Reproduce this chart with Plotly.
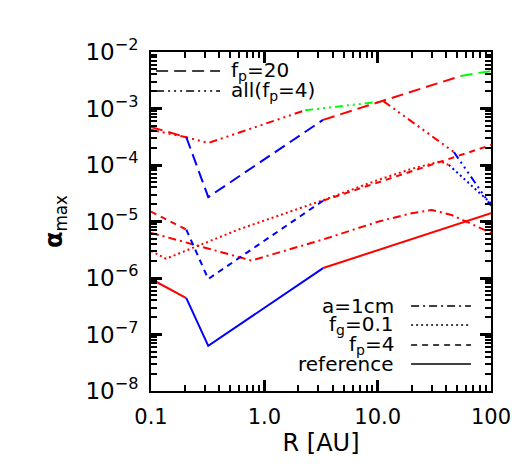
import plotly.graph_objects as go

# radius [AU] and alpha_max, one set per model
R_ref = [0.1, 0.205, 0.32, 3.3, 100]
alpha_ref = [9.6e-7, 4.4e-7, 6.3e-8, 1.5e-6, 1.4e-5]
regime_ref = ["A", "B", "B", "A"]

R_fp4 = [0.1, 0.205, 0.32, 3.3, 100]
alpha_fp4 = [1.5e-5, 7.2e-6, 9.6e-7, 2.34e-5, 2.26e-4]
regime_fp4 = ["A", "B", "B", "A"]

R_fp20 = [0.1, 0.205, 0.32, 3.3, 54, 100]
alpha_fp20 = [4.7e-4, 3.1e-4, 2.7e-5, 6.3e-4, 3.76e-3, 4.6e-3]
regime_fp20 = ["A", "B", "B", "A", "C"]

R_all = [0.1, 0.205, 0.32, 2.29, 11.3, 47, 100]
alpha_all = [4.2e-4, 3.1e-4, 2.45e-4, 9.3e-4, 1.34e-3, 1.7e-4, 1.9e-5]
regime_all = ["A", "A", "A", "C", "A", "B"]

R_fg = [0.1, 0.136, 0.59, 3.33, 10, 20, 35.9, 42.5, 66.5, 100]
alpha_fg = [3.0e-6, 2.2e-6, 7.2e-6, 2.4e-5, 5.4e-5, 8.6e-5, 1.16e-4, 1.0e-4, 4.4e-5, 2.1e-5]
regime_fg = ["A", "A", "A", "A", "A", "A", "A", "B", "B"]

R_1cm = [0.1, 0.77, 3.3, 10.2, 20, 30, 45, 68, 100]
alpha_1cm = [6.3e-6, 2.04e-6, 4.8e-6, 1.0e-5, 1.4e-5, 1.6e-5, 1.3e-5, 8.8e-6, 6.3e-6]
regime_1cm = ["A", "A", "A", "A", "A", "A", "A", "A"]

x_tick_vals = [0.1, 1, 10, 100]
x_tick_text = ["0.1", "1.0", "10.0", "100"]
y_exponents = [-8, -7, -6, -5, -4, -3, -2]

X_RANGE = [-1, 2]
Y_RANGE = [-8, -2]

regime_color = {"A": "#ff0000", "B": "#0000ff", "C": "#00ff00"}
DASH_LONG = "12px,6px"
DASH_SHORT = "6px,5px"
DOT = "2px,3px"
DASH_DOT = "8px,4px,2px,4px"
DASH_3DOT = "8px,4px,2px,4px,2px,4px,2px,4px"
FONT = "DejaVu Sans"

fig = go.Figure()


def add_curve(r, a, regime, dash):
    # split the curve where the regime (colour) changes
    start = 0
    for i in range(1, len(regime) + 1):
        if i == len(regime) or regime[i] != regime[start]:
            fig.add_trace(go.Scatter(
                x=r[start:i + 1], y=a[start:i + 1], mode="lines",
                line=dict(color=regime_color[regime[start]], width=2, dash=dash),
                showlegend=False, hoverinfo="skip"))
            start = i


add_curve(R_1cm, alpha_1cm, regime_1cm, DASH_DOT)
add_curve(R_fg, alpha_fg, regime_fg, DOT)
add_curve(R_fp4, alpha_fp4, regime_fp4, DASH_SHORT)
add_curve(R_ref, alpha_ref, regime_ref, "solid")
add_curve(R_all, alpha_all, regime_all, DASH_3DOT)
add_curve(R_fp20, alpha_fp20, regime_fp20, DASH_LONG)

# legends drawn by hand, IDL style
top_items = [("f<sub>p</sub>=20", DASH_LONG, 0.944), ("all(f<sub>p</sub>=4)", DASH_3DOT, 0.885)]
for label, dash, yy in top_items:
    fig.add_shape(type="line", xref="paper", yref="paper", x0=0.015, x1=0.203, y0=yy, y1=yy,
                  line=dict(color="black", width=1.5, dash=dash))
    fig.add_annotation(xref="paper", yref="paper", x=0.228, y=yy, text=label, showarrow=False,
                       xanchor="left", yanchor="middle", font=dict(family=FONT, size=20, color="black"))

bottom_items = [("a=1cm", DASH_DOT, 0.251), ("f<sub>g</sub>=0.1", DOT, 0.195),
                ("f<sub>p</sub>=4", DASH_SHORT, 0.136), ("reference", "solid", 0.080)]
for label, dash, yy in bottom_items:
    fig.add_shape(type="line", xref="paper", yref="paper", x0=0.765, x1=0.941, y0=yy, y1=yy,
                  line=dict(color="black", width=1.5, dash=dash))
    fig.add_annotation(xref="paper", yref="paper", x=0.72, y=yy, text=label, showarrow=False,
                       xanchor="right", yanchor="middle", font=dict(family=FONT, size=20, color="black"))

axis_common = dict(
    type="log", showgrid=False, zeroline=False,
    showline=True, linecolor="#000000", linewidth=2, mirror="allticks",
    ticks="inside", ticklen=11, tickwidth=2.5, tickcolor="#000000",
    minor=dict(ticks="inside", ticklen=6, tickwidth=2, tickcolor="#000000",
               dtick="D1", showgrid=False),
)

fig.update_layout(
    width=526, height=474,
    margin=dict(l=143, r=43, t=44, b=91),
    paper_bgcolor="white", plot_bgcolor="white",
    xaxis=dict(axis_common, range=X_RANGE, tickvals=x_tick_vals, ticktext=x_tick_text,
               tickfont=dict(family=FONT, size=21, color="black"), ticklabelstandoff=6,
               title=dict(text="R [AU]", font=dict(family=FONT, size=24, color="black"), standoff=2)),
    yaxis=dict(axis_common, range=Y_RANGE,
               tickvals=[10.0 ** e for e in y_exponents],
               ticktext=["10<sup>\u2212%d</sup>" % -e for e in y_exponents],
               tickfont=dict(family=FONT, size=23, color="black"), ticklabelstandoff=6,
               title=dict(text="<b>\u03b1</b><sub>max</sub>", font=dict(family=FONT, size=24, color="black"),
                          standoff=16)),
)

fig.write_html("out.html")
